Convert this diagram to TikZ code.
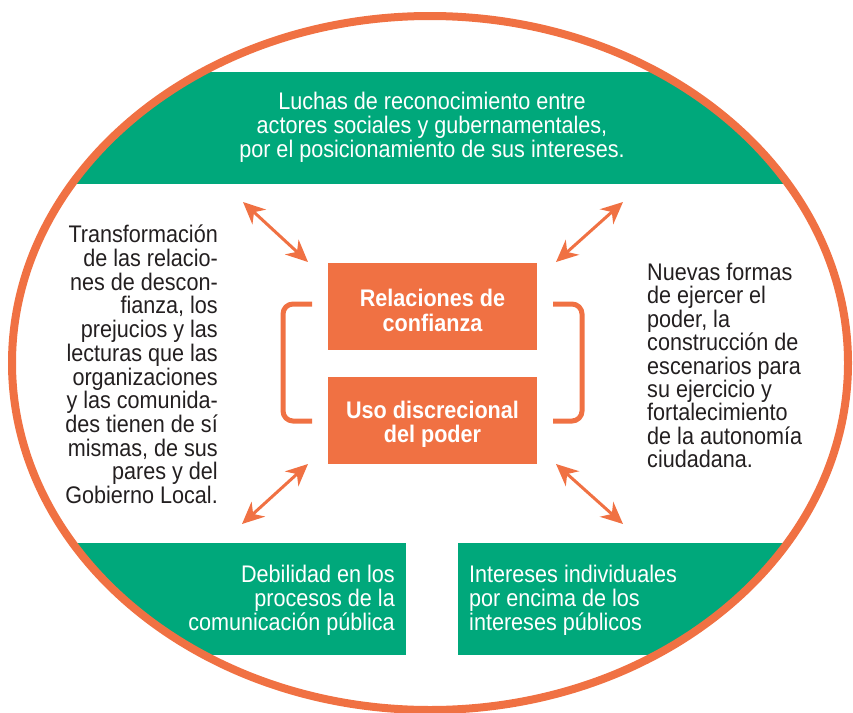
\documentclass[tikz,border=0pt]{standalone}
\usepackage{fontspec}
\setmainfont{Liberation Sans}[FakeStretch=0.90]
\usetikzlibrary{arrows.meta}
\definecolor{org}{HTML}{F07143}
\definecolor{grn}{HTML}{00A87B}
\definecolor{txt}{HTML}{231F20}
\tikzset{
  body/.style={inner sep=0pt, text=txt},
  wbody/.style={inner sep=0pt, text=white, font=\fontsize{24}{24}\selectfont},
  obox/.style={fill=org, minimum width=209pt, minimum height=87pt, inner sep=0pt},
  otext/.style={inner sep=0pt, text=white, align=center, font=\bfseries\fontsize{24}{24.5}\selectfont},
  brk/.style={draw=org, line width=5pt, rounded corners=10pt},
  dblarr/.style={draw=org, line width=3pt,
    {Stealth[length=22pt,width=20pt,inset=7pt]}-{Stealth[length=22pt,width=20pt,inset=7pt]}}
}
\begin{document}
\begin{tikzpicture}[x=1pt,y=-1pt]
\useasboundingbox (0,0) rectangle (853,712);
\begin{scope}
  \clip (430,363) ellipse [x radius=418pt, y radius=347pt];
  \fill[grn] (0,72) rectangle (853,184);
  \fill[grn] (0,543) rectangle (406,655);
  \fill[grn] (458,543) rectangle (853,655);
\end{scope}
\draw[org, line width=8pt] (430,363) ellipse [x radius=418pt, y radius=347pt];

\node[wbody, align=center] (top) at (432,127) {Luchas de reconocimiento entre\\actores sociales y gubernamentales,\\por el posicionamiento de sus intereses.};
\node[wbody, align=right, anchor=east] (bl) at (395,600) {Debilidad en los\\procesos de la\\comunicación pública};
\node[wbody, align=left, anchor=west] (br) at (469,600) {Intereses individuales\\por encima de los\\intereses públicos};

\node[body, align=right, anchor=north east, font=\fontsize{24}{23.7}\selectfont] (left) at (218,225) {Transformación\\de las relacio-\\nes de descon-\\fianza, los\\prejucios y las\\lecturas que las\\organizaciones\\y las comunida-\\des tienen de sí\\mismas, de sus\\pares y del\\Gobierno Local.};
\node[body, align=left, anchor=north west, font=\fontsize{24}{23.4}\selectfont] (right) at (647,263) {Nuevas formas\\de ejercer el\\poder, la\\construcción de\\escenarios para\\su ejercicio y\\fortalecimiento\\de la autonomía\\ciudadana.};

\node[obox] (rel) at (432.5,306.5) {};
\node[obox] (uso) at (432.5,420.5) {};
\node[otext, yshift=-4pt] (reltext) at (rel.center) {Relaciones de\\confianza};
\node[otext, yshift=-4pt] (usotext) at (uso.center) {Uso discrecional\\del poder};

\coordinate (lb1) at (312,304); \coordinate (lb2) at (312,421);
\coordinate (rb1) at (553,304); \coordinate (rb2) at (553,421);
\draw[brk] (lb1) -- (283,304) -- (283,421) -- (lb2);
\draw[brk] (rb1) -- (582,304) -- (582,421) -- (rb2);

\coordinate (a1s) at (243,202); \coordinate (a1e) at (308,262);
\coordinate (a2s) at (623,202); \coordinate (a2e) at (556,262);
\coordinate (a3s) at (308,464); \coordinate (a3e) at (242,524);
\coordinate (a4s) at (556,464); \coordinate (a4e) at (623,524);
\draw[dblarr] (a1s) -- (a1e);
\draw[dblarr] (a2s) -- (a2e);
\draw[dblarr] (a3s) -- (a3e);
\draw[dblarr] (a4s) -- (a4e);
\end{tikzpicture}
\end{document}
